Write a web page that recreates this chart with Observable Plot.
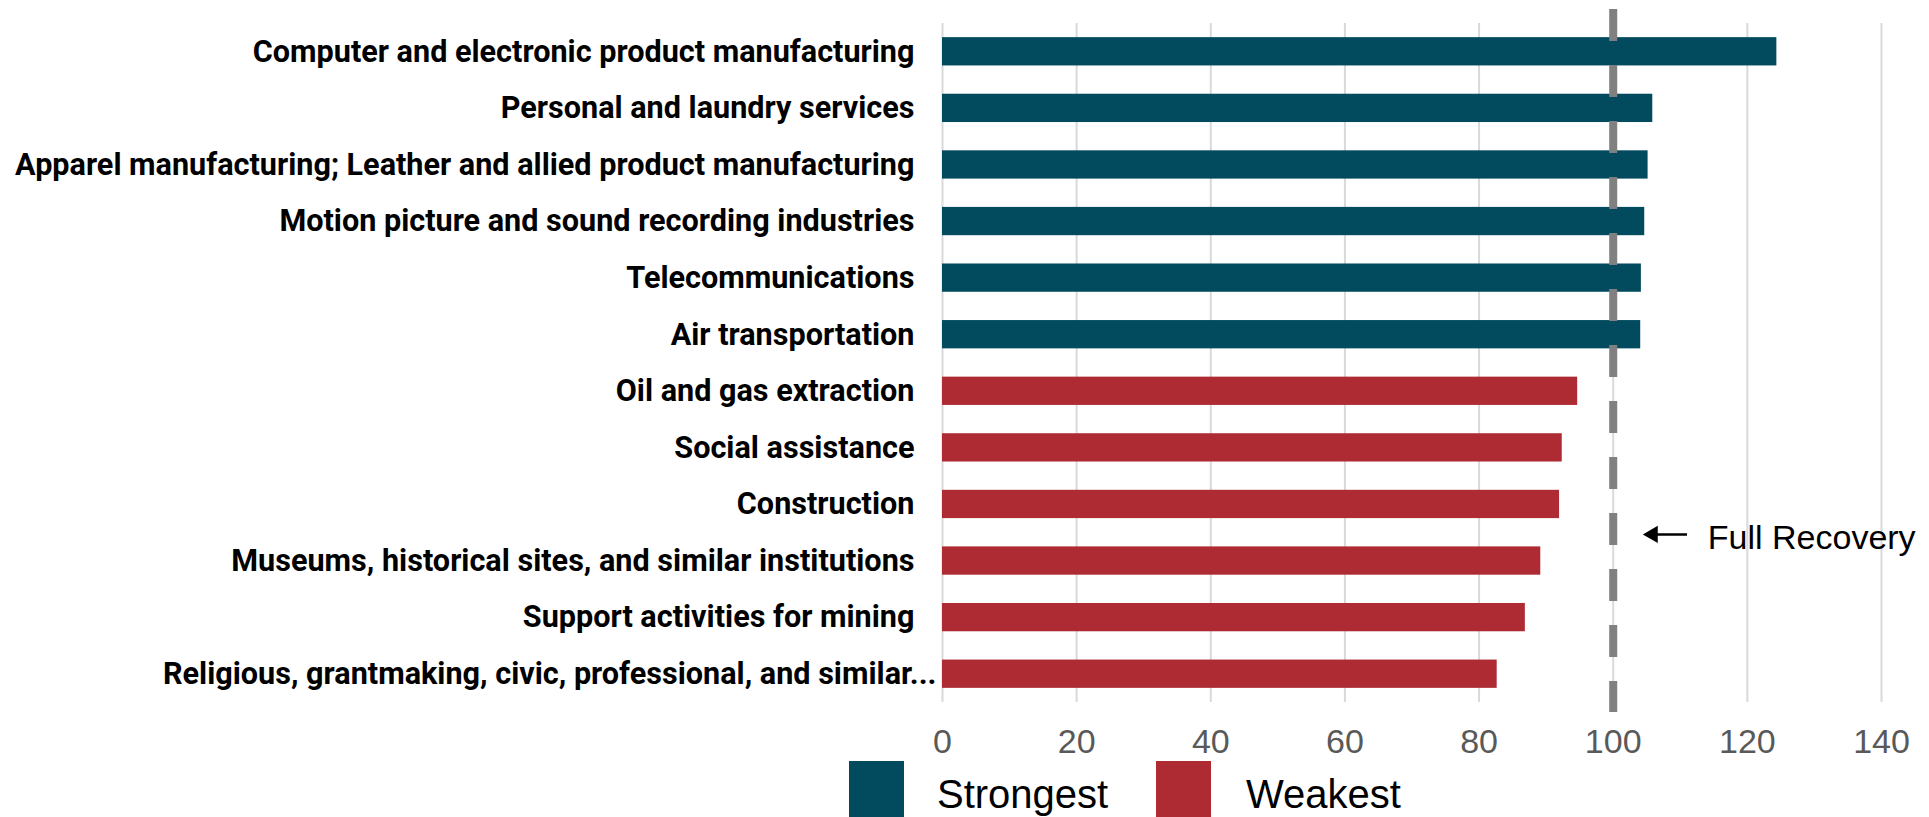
<!DOCTYPE html>
<html><head><meta charset="utf-8">
<script src="https://cdn.jsdelivr.net/npm/d3@7"></script>
<script src="https://cdn.jsdelivr.net/npm/@observablehq/plot@0.6"></script>
<style>
body{margin:0;background:#fff;}
#wrap{position:relative;width:1929px;height:817px;overflow:hidden;}
.sw{position:absolute;width:55px;height:60px;}
.lt{position:absolute;font-family:"Liberation Sans",Arial,sans-serif;font-size:40px;line-height:40px;color:#000;white-space:nowrap;}
</style></head><body><div id="wrap"></div>
<script>
const industries = [
  "Computer and electronic product manufacturing",
  "Personal and laundry services",
  "Apparel manufacturing; Leather and allied product manufacturing",
  "Motion picture and sound recording industries",
  "Telecommunications",
  "Air transportation",
  "Oil and gas extraction",
  "Social assistance",
  "Construction",
  "Museums, historical sites, and similar institutions",
  "Support activities for mining",
  "Religious, grantmaking, civic, professional, and similar..."
];
const values = [124.4, 105.9, 105.2, 104.7, 104.2, 104.1, 94.7, 92.4, 92.0, 89.2, 86.9, 82.7];
const groups = ["Strongest","Strongest","Strongest","Strongest","Strongest","Strongest",
                "Weakest","Weakest","Weakest","Weakest","Weakest","Weakest"];
const groupNames = ["Strongest", "Weakest"];
const groupColors = ["#024b5e", "#ae2b34"];
const xTicks = [0, 20, 40, 60, 80, 100, 120, 140];
const recoveryLevel = 100;
const annotationLabel = "Full Recovery";
const annotationRow = "Construction";

const data = industries.map((d, i) => ({industry: d, value: values[i], group: groups[i]}));
const annot = [{x1: recoveryLevel + 11, x2: recoveryLevel + 5.9, xt: recoveryLevel + 14.1, y: annotationRow, label: annotationLabel}];

const labelFont = "Roboto, 'Liberation Sans', Arial, sans-serif";
const plainFont = "'Liberation Sans', Arial, sans-serif";

const chart = Plot.plot({
  width: 1929,
  height: 760,
  marginTop: 23,
  marginBottom: 58,
  marginLeft: 942,
  marginRight: 48,
  style: {fontFamily: plainFont, background: "#fff"},
  x: {domain: [0, 140]},
  y: {domain: industries, paddingInner: 0.5, paddingOuter: 0.25, round: false},
  color: {domain: groupNames, range: groupColors},
  marks: [
    Plot.gridX(xTicks, {stroke: "#d9d9d9", strokeOpacity: 1, strokeWidth: 2}),
    Plot.barX(data, {x: "value", y: "industry", fill: "group"}),
    Plot.ruleX([recoveryLevel], {stroke: "#808080", strokeWidth: 8, strokeDasharray: "32,24", insetTop: -14, insetBottom: -10}),
    Plot.axisX(xTicks, {tickSize: 0, tickPadding: 26, fontSize: 34, fontFamily: plainFont, color: "#595959", label: null}),
    Plot.axisY(industries.slice(0, 11), {tickSize: 0, tickPadding: 28, fontSize: 30.6, fontWeight: 700, fontFamily: labelFont, color: "#000", label: null}),
    Plot.axisY(industries.slice(11), {tickSize: 0, tickPadding: 6, fontSize: 30.6, fontWeight: 700, fontFamily: labelFont, color: "#000", label: null}),
    Plot.link(annot, {x1: "x1", x2: "x2", y1: "y", y2: "y", dy: 30, stroke: "#000", strokeWidth: 2.5}),
    Plot.dot(annot, {x: "x2", y: "y", dy: 30, symbol: "triangle", r: 6.4, rotate: -90, fill: "#000", stroke: "none"}),
    Plot.text(annot, {x: "xt", y: "y", dy: 34, text: "label", textAnchor: "start", fontSize: 34, fontFamily: plainFont, fill: "#000"})
  ]
});

const wrap = document.getElementById("wrap");
wrap.appendChild(chart);

const legendPos = [{sw: 849, tx: 937}, {sw: 1156, tx: 1246}];
groupNames.forEach((g, i) => {
  const s = document.createElement("div");
  s.className = "sw";
  s.style.left = legendPos[i].sw + "px";
  s.style.top = "761px";
  s.style.background = groupColors[i];
  wrap.appendChild(s);
  const t = document.createElement("div");
  t.className = "lt";
  t.style.left = legendPos[i].tx + "px";
  t.style.top = "774px";
  t.textContent = g;
  wrap.appendChild(t);
});
</script>
</body></html>
